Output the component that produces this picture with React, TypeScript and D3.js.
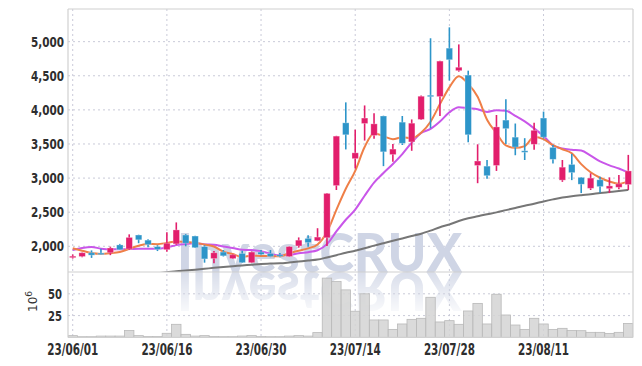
import React from "react";
import * as d3 from "d3";

const dates = ["23/06/01","23/06/02","23/06/05","23/06/07","23/06/08","23/06/09","23/06/12","23/06/13","23/06/14","23/06/15","23/06/16","23/06/19","23/06/20","23/06/21","23/06/22","23/06/23","23/06/26","23/06/27","23/06/28","23/06/29","23/06/30","23/07/03","23/07/04","23/07/05","23/07/06","23/07/07","23/07/10","23/07/11","23/07/12","23/07/13","23/07/14","23/07/17","23/07/18","23/07/19","23/07/20","23/07/21","23/07/24","23/07/25","23/07/26","23/07/27","23/07/28","23/07/31","23/08/01","23/08/02","23/08/03","23/08/04","23/08/07","23/08/08","23/08/09","23/08/10","23/08/11","23/08/14","23/08/16","23/08/17","23/08/18","23/08/21","23/08/22","23/08/23","23/08/24","23/08/25"];

const opens = [1850,1850,1905,1900,1905,2020,1960,2165,2090,1995,1950,2035,2165,2150,1995,1820,1915,1820,1895,1760,1915,1895,1875,1850,2005,2115,2080,2125,2890,3810,3285,3800,3625,3910,3345,3820,3530,3860,4215,4195,4905,4575,4510,3185,3175,3185,3850,3600,3400,3495,3880,3450,2970,3200,3010,2850,2975,2845,2865,2905];
const highs = [1880,1910,1940,1965,1995,2035,2175,2170,2105,2015,2205,2350,2180,2155,2015,1930,1945,1885,1935,1925,1945,1945,1900,2000,2130,2160,2265,2780,3620,4110,3710,4065,3950,3915,3500,3910,3860,4210,5050,4720,5210,4960,4575,3495,3265,3925,4155,3800,3585,3810,3975,3485,3265,3355,3015,3070,3020,3010,3045,3340];
const lows = [1820,1840,1830,1880,1870,1945,1945,2045,1985,1930,1920,2020,2000,1975,1760,1750,1850,1815,1755,1755,1870,1840,1840,1845,1980,1995,2075,2005,2825,3420,3140,3550,3575,3175,3240,3485,3400,3850,3730,3910,4430,4560,3525,2925,2990,3105,3500,3335,3265,3415,3580,3215,2945,2970,2780,2825,2785,2780,2835,2825];
const closes = [1855,1905,1870,1885,1975,1950,2130,2095,2025,1955,2045,2240,2045,1980,1815,1905,1860,1875,1760,1915,1880,1850,1860,1995,2090,2055,2135,2775,3615,3635,3370,3880,3795,3385,3425,3510,3805,4200,4195,4715,4735,4625,3635,3250,3035,3750,3725,3455,3380,3700,3600,3275,3160,3080,2910,3000,2875,2885,2915,3105];
const volumes = [2,0.8,0.8,1.5,1.5,1.5,8,2,1,1,4.7,15,3.5,1.5,2,1,0.8,0.8,1.5,2,1,0.8,0.8,1.5,2,1.5,5.5,68,64,54.5,30,50,20,20,9.2,15.4,20.7,21.9,46,17.7,19.2,15,30.3,39,15.4,49.5,25.7,14.2,9.2,21.9,15.4,9.2,10.4,8,7.7,5.8,5.8,4.6,5.8,16];

// moving-average values before enough in-range closes exist
const ma5Lead = [1970,1935,1900,1888];
const ma10Lead = [1945,1975,1990,1965,1955,1955,1960,1965,1965];
// long moving average (gray); null where not drawn
const maLong = [null,null,null,null,null,null,null,null,null,1605,1618,1633,1645,1657,1670,1684,1696,1708,1719,1731,1742,1746,1750,1762,1776,1790,1805,1837,1870,1905,1935,1970,2010,2045,2080,2115,2150,2185,2230,2280,2320,2370,2410,2440,2470,2497,2530,2562,2595,2625,2658,2688,2715,2735,2750,2763,2780,2795,2810,2826];

const priceTicks = [2000,2500,3000,3500,4000,4500,5000];
const volTicks = [25,50];
const dateTickIdx = [0,10,20,30,40,50];

function movingAvg(n: number, lead: number[]) {
  return closes.map((_, i) => {
    if (i < n - 1) return lead[i];
    return d3.mean(closes.slice(i - n + 1, i + 1)) as number;
  });
}

export default function App() {
  const W = 642, H = 366;
  const L = 68, R = 633, T = 9, PB = 272, VB = 337.4;
  const idx = dates.map((_, i) => i);
  const x = d3.scaleBand<number>().domain(idx).range([L, R]).padding(0);
  const step = x.step();
  const cx = (i: number) => (x(i) as number) + step / 2;
  const y = d3.scaleLinear().domain([1623, 5479]).range([PB, T]);
  const yv = d3.scaleLinear().domain([0, 75]).range([VB, PB]);

  const ma5 = movingAvg(5, ma5Lead);
  const ma10 = movingAvg(10, ma10Lead);
  const line = d3.line<number | null>()
    .defined((d) => d != null)
    .x((_, i) => cx(i))
    .y((d) => y(d as number))
    .curve(d3.curveMonotoneX);

  const up = "#e21e6c";
  const down = "#2d95c9";
  const fontAxis = "'DejaVu Sans Condensed','Liberation Sans Narrow',sans-serif";
  const bodyW = 6.4;
  const wmFont = "Lato,'DejaVu Sans',sans-serif";

  return (
    <svg width={W} height={H} style={{ position: "absolute", left: 0, top: 0, background: "#fff" }}>
      <defs>
        <clipPath id="pclip"><rect x={L} y={T} width={R - L} height={PB - T} /></clipPath>
        <clipPath id="vclip"><rect x={L} y={PB} width={R - L} height={VB - PB} /></clipPath>
        <linearGradient id="refl" x1="0" y1="0" x2="0" y2="1">
          <stop offset="0" stopColor="#fff" stopOpacity="0.8" />
          <stop offset="1" stopColor="#fff" stopOpacity="0.05" />
        </linearGradient>
        <mask id="rmask"><rect x={L} y={PB} width={R - L} height={45} fill="url(#refl)" /></mask>
      </defs>

      {/* grid */}
      <g stroke="#c9cad8" strokeWidth={1} strokeDasharray="2,3">
        {priceTicks.map((t) => (
          <line key={"p" + t} x1={L} x2={R} y1={y(t)} y2={y(t)} />
        ))}
        {volTicks.map((t) => (
          <line key={"v" + t} x1={L} x2={R} y1={yv(t)} y2={yv(t)} />
        ))}
        {dateTickIdx.map((i) => (
          <line key={"d" + i} x1={cx(i)} x2={cx(i)} y1={T} y2={VB} />
        ))}
      </g>

      {/* watermark */}
      <text x={177} y={PB} fontFamily={wmFont} fontWeight={900} fontSize={54}
        textLength={285} lengthAdjust="spacingAndGlyphs" fill="#cfd5e5">InvestCRUX</text>
      <g mask="url(#rmask)">
        <text x={177} y={PB} fontFamily={wmFont} fontWeight={900} fontSize={54}
          textLength={285} lengthAdjust="spacingAndGlyphs" fill="#cfd5e5"
          transform={`translate(0,${2 * PB}) scale(1,-1)`}>InvestCRUX</text>
      </g>

      {/* volume */}
      <g clipPath="url(#vclip)">
        {volumes.map((v, i) => (
          <rect key={i} x={x(i) as number} y={yv(v)} width={step} height={VB - yv(v)}
            fill="#d4d4d4" fillOpacity={0.85} stroke="#b9b9b9" strokeWidth={0.8} />
        ))}
      </g>

      {/* moving averages */}
      <g clipPath="url(#pclip)" fill="none" strokeWidth={2} strokeLinejoin="round">
        <path d={line(maLong) as string} stroke="#767676" />
        <path d={line(ma10) as string} stroke="#c956e9" />
        <path d={line(ma5) as string} stroke="#ef7f47" />
      </g>

      {/* candles */}
      <g clipPath="url(#pclip)">
        {closes.map((c, i) => {
          const o = opens[i];
          const col = c >= o ? up : down;
          const top = y(Math.max(o, c));
          const bot = y(Math.min(o, c));
          return (
            <g key={i}>
              <line x1={cx(i)} x2={cx(i)} y1={y(highs[i])} y2={y(lows[i])} stroke={col} strokeWidth={1.6} />
              <rect x={cx(i) - bodyW / 2} y={top} width={bodyW} height={Math.max(1.5, bot - top)}
                fill={col} stroke="#fff" strokeOpacity={0.35} strokeWidth={0.8} />
            </g>
          );
        })}
      </g>

      {/* frame */}
      <g stroke="#d0d0d0" strokeWidth={1.2} fill="none">
        <line x1={L} x2={R} y1={T} y2={T} />
        <line x1={L} x2={L} y1={T} y2={VB} />
        <line x1={R} x2={R} y1={T} y2={VB} />
        <line x1={L} x2={R} y1={PB} y2={PB} />
        <line x1={L} x2={R} y1={VB} y2={VB} />
      </g>

      {/* axis labels */}
      <g fontFamily={fontAxis} fontWeight="bold" fill="#2e2e2e">
        {priceTicks.map((t) => (
          <text key={t} x={64} y={y(t)} dy="0.36em" textAnchor="end" fontSize={14}
            textLength={33} lengthAdjust="spacingAndGlyphs">{d3.format(",")(t)}</text>
        ))}
        {volTicks.map((t) => (
          <text key={t} x={62} y={yv(t)} dy="0.36em" textAnchor="end" fontSize={14}
            textLength={14} lengthAdjust="spacingAndGlyphs">{t}</text>
        ))}
        {dateTickIdx.map((i) => (
          <text key={i} x={cx(i)} y={355} textAnchor="middle" fontSize={15}
            textLength={51} lengthAdjust="spacingAndGlyphs">{dates[i]}</text>
        ))}
      </g>
      <text transform="translate(37,312) rotate(-90)" fontFamily="'DejaVu Sans',sans-serif" fontSize={12} fill="#333">
        10<tspan dy="-5" fontSize={9}>6</tspan>
      </text>
    </svg>
  );
}
